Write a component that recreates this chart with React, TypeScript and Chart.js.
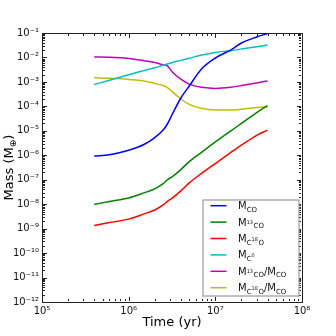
import React, { useEffect, useRef } from 'react';
import { Chart, registerables } from 'chart.js';
Chart.register(...registerables);

const times = [4e5, 6e5, 1e6, 1.5e6, 2e6, 2.5e6, 2.8e6, 3.2e6, 4e6, 5e6, 7e6, 1e7, 1.5e7, 2e7, 3e7, 4e7];
const mCO = [9.3e-7, 1.05e-6, 1.6e-6, 2.75e-6, 5.3e-6, 1.07e-5, 1.9e-5, 4.9e-5, 2.2e-4, 6.8e-4, 3.5e-3, 9.5e-3, 0.02, 0.039, 0.069, 0.095];
const m13CO = [9.8e-9, 1.3e-8, 1.8e-8, 2.9e-8, 4.2e-8, 6.9e-8, 1.0e-7, 1.35e-7, 2.6e-7, 5.5e-7, 1.35e-6, 3.5e-6, 9.8e-6, 2e-5, 5.6e-5, 1.07e-4];
const mC18O = [1.35e-9, 1.78e-9, 2.45e-9, 4e-9, 5.8e-9, 9.3e-9, 1.3e-8, 1.8e-8, 3.5e-8, 7.4e-8, 1.87e-7, 4.6e-7, 1.28e-6, 2.6e-6, 6.5e-6, 1.07e-5];
const mC0 = [7.8e-4, 1.17e-3, 1.97e-3, 2.9e-3, 3.8e-3, 4.8e-3, 5.4e-3, 6.2e-3, 7.6e-3, 9.3e-3, 0.0126, 0.016, 0.019, 0.022, 0.0275, 0.032];
const ratio13 = [0.0104, 0.0102, 0.0091, 0.0074, 0.0062, 0.005, 0.0045, 0.0025, 1.3e-3, 8.1e-4, 6e-4, 5.4e-4, 6e-4, 7.1e-4, 9.1e-4, 1.1e-3];
const ratio18 = [1.48e-3, 1.4e-3, 1.26e-3, 1.1e-3, 8.6e-4, 7.1e-4, 5.9e-4, 3.9e-4, 2e-4, 1.2e-4, 8.1e-5, 7.1e-5, 7.1e-5, 7.6e-5, 8.9e-5, 9.8e-5];

const seriesLabels = ['M_CO', 'M_13CO', 'M_C18O', 'M_C0', 'M_13CO/M_CO', 'M_C18O/M_CO'];
const seriesColors = ['#0000ff', '#008000', '#ff0000', '#00bfbf', '#bf00bf', '#bfbf00'];
const seriesValues = [mCO, m13CO, mC18O, mC0, ratio13, ratio18];
// rich text pieces: [text, level] level 0 normal, 1 subscript, 2 superscript within subscript
const legendRich: [string, number][][] = [
  [['M', 0], ['CO', 1]],
  [['M', 0], ['13', 2], ['CO', 1]],
  [['M', 0], ['C', 1], ['18', 2], ['O', 1]],
  [['M', 0], ['C', 1], ['0', 2]],
  [['M', 0], ['13', 2], ['CO', 1], ['/M', 0], ['CO', 1]],
  [['M', 0], ['C', 1], ['18', 2], ['O', 1], ['/M', 0], ['CO', 1]],
];

const xTicks = [1e5, 1e6, 1e7, 1e8];
const yTicks = [1e-12, 1e-11, 1e-10, 1e-9, 1e-8, 1e-7, 1e-6, 1e-5, 1e-4, 1e-3, 1e-2, 1e-1];
const xTitle = 'Time (yr)';
const yTitle: [string, number][] = [['Mass (M', 0], ['⊕', 1], [')', 0]];

const FONT = '"DejaVu Sans", sans-serif';
const FRAME = '#222';
const supMap: Record<string, string> = { '-': '⁻', '0': '⁰', '1': '¹', '2': '²', '3': '³', '4': '⁴', '5': '⁵', '6': '⁶', '7': '⁷', '8': '⁸', '9': '⁹' };
const powLabel = (v: number) => {
  const e = Math.round(Math.log10(v));
  return '10' + String(e).split('').map((c) => supMap[c]).join('');
};

const levelSize = [10, 7, 5];
const levelDy = [0, 2.5, -1.5];
function drawRich(ctx: CanvasRenderingContext2D, parts: [string, number][], x: number, y: number, sizes = levelSize, dys = levelDy) {
  let cx = x;
  for (const [t, lvl] of parts) {
    ctx.font = `${sizes[lvl]}px ${FONT}`;
    ctx.fillText(t, cx, y + dys[lvl]);
    cx += ctx.measureText(t).width + (lvl === 2 ? 0.5 : 0);
  }
  return cx - x;
}
function richWidth(ctx: CanvasRenderingContext2D, parts: [string, number][], sizes = levelSize) {
  let w = 0;
  for (const [t, lvl] of parts) {
    ctx.font = `${sizes[lvl]}px ${FONT}`;
    w += ctx.measureText(t).width + (lvl === 2 ? 0.5 : 0);
  }
  return w;
}

const overlayPlugin = {
  id: 'overlay',
  afterDraw(chart: any) {
    const ctx: CanvasRenderingContext2D = chart.ctx;
    const a = chart.chartArea;
    const xs = chart.scales.x, ys = chart.scales.y;
    ctx.save();
    // inward major/minor tick marks on all four sides
    ctx.fillStyle = FRAME;
    const L = Math.round(a.left), R = Math.round(a.right) - 1;
    const T = Math.round(a.top), B = Math.round(a.bottom) - 1;
    for (let d = 5; d <= 8; d++) {
      for (let m = 1; m <= 9; m++) {
        const v = m * Math.pow(10, d);
        if (v > 1.0001e8) continue;
        const px = Math.round(xs.getPixelForValue(v));
        const len = m === 1 ? 4 : 2;
        ctx.fillRect(px, B - len, 1, len);
        ctx.fillRect(px, T + 1, 1, len);
      }
    }
    for (let d = -12; d <= -1; d++) {
      for (let m = 1; m <= 9; m++) {
        const v = m * Math.pow(10, d);
        if (v > 0.10001) continue;
        const py = Math.round(ys.getPixelForValue(v));
        const len = m === 1 ? 4 : 2;
        ctx.fillRect(L + 1, py, len, 1);
        ctx.fillRect(R - len, py, len, 1);
      }
    }

    // legend
    const rowH = 16.4;
    const boxW = 96, boxH = 96;
    const bx = a.right - 3 - boxW, by = a.bottom - 6 - boxH;
    ctx.fillStyle = '#fff';
    ctx.fillRect(bx, by, boxW, boxH);
    ctx.strokeStyle = '#a0a0a0';
    ctx.lineWidth = 1.3;
    ctx.strokeRect(bx, by, boxW, boxH);
    ctx.textBaseline = 'alphabetic';
    ctx.textAlign = 'left';
    for (let i = 0; i < seriesLabels.length; i++) {
      const cy = by + 5.7 + i * rowH;
      ctx.strokeStyle = seriesColors[i];
      ctx.lineWidth = 1.5;
      ctx.beginPath();
      ctx.moveTo(bx + 7.5, cy);
      ctx.lineTo(bx + 23.5, cy);
      ctx.stroke();
      ctx.fillStyle = '#111';
      drawRich(ctx, legendRich[i], bx + 35, cy + 3.5);
    }

    // axis titles
    ctx.fillStyle = '#000';
    ctx.font = `13px ${FONT}`;
    ctx.textAlign = 'center';
    ctx.fillText(xTitle, (a.left + a.right) / 2, 326);
    ctx.save();
    ctx.translate(12.5, (a.top + a.bottom) / 2);
    ctx.rotate(-Math.PI / 2);
    ctx.textAlign = 'left';
    const sizes = [13, 9, 7];
    const dys = [0, 3, 0];
    const w = richWidth(ctx, yTitle, sizes);
    drawRich(ctx, yTitle, -w / 2, 0, sizes, dys);
    ctx.restore();
    ctx.restore();
  },
};

const frameAxis = (position: string, horizontal: boolean) => ({
  type: 'linear' as const,
  position,
  min: 0,
  max: 1,
  display: true,
  grid: { display: false, drawTicks: false },
  border: { display: true, color: FRAME, width: 1 },
  ticks: { display: false },
  afterFit: (s: any) => { if (horizontal) s.height = 0; else s.width = 0; },
});

export default function App() {
  const ref = useRef<HTMLCanvasElement>(null);
  useEffect(() => {
    document.body.style.margin = '0';
    const datasets = seriesLabels.map((label, i) => ({
      label,
      data: times.map((t, j) => ({ x: t, y: seriesValues[i][j] })),
      borderColor: seriesColors[i],
      backgroundColor: seriesColors[i],
      borderWidth: 1.5,
      pointRadius: 0,
      cubicInterpolationMode: 'monotone' as const,
      fill: false,
      xAxisID: 'x',
      yAxisID: 'y',
    }));
    const chart = new Chart(ref.current!, {
      type: 'line',
      data: { datasets },
      plugins: [overlayPlugin],
      options: {
        responsive: false,
        animation: false,
        layout: { padding: { top: 33, right: 34, left: 0, bottom: 0 } },
        plugins: { legend: { display: false } },
        scales: {
          x: {
            type: 'logarithmic',
            position: 'bottom',
            min: 1e5,
            max: 1e8,
            grid: { display: false, drawTicks: false },
            border: { display: true, color: FRAME, width: 1 },
            afterBuildTicks: (s: any) => { s.ticks = xTicks.map((v) => ({ value: v })); },
            afterFit: (s: any) => { s.height = 34; },
            ticks: {
              autoSkip: false,
              maxRotation: 0,
              padding: 3,
              color: '#111',
              font: { family: FONT, size: 10 },
              callback: (v: any) => powLabel(Number(v)),
            },
          },
          y: {
            type: 'logarithmic',
            position: 'left',
            min: 1e-12,
            max: 1e-1,
            grid: { display: false, drawTicks: false },
            border: { display: true, color: FRAME, width: 1 },
            afterBuildTicks: (s: any) => { s.ticks = yTicks.map((v) => ({ value: v })); },
            afterFit: (s: any) => { s.width = 42; },
            ticks: {
              autoSkip: false,
              padding: 3,
              color: '#111',
              font: { family: FONT, size: 10 },
              callback: (v: any) => powLabel(Number(v)),
            },
          },
          xTop: frameAxis('top', true),
          yRight: frameAxis('right', false),
        } as any,
      },
    });
    return () => chart.destroy();
  }, []);
  return (
    <div style={{ position: 'fixed', left: 0, top: 0, width: 336, height: 336, background: '#fff' }}>
      <canvas ref={ref} width={336} height={336} />
    </div>
  );
}
